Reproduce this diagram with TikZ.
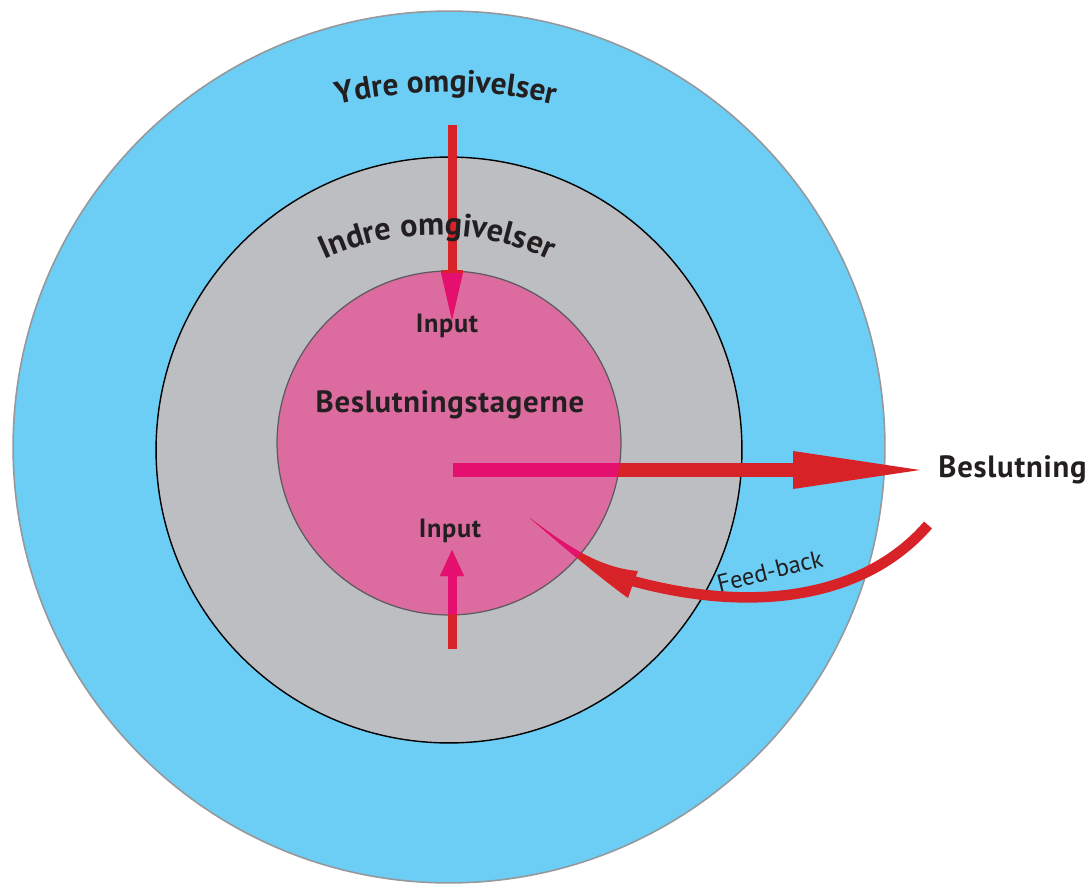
\documentclass[tikz,border=0pt]{standalone}
\usepackage{fontspec}
\setmainfont{PT Sans}
\usetikzlibrary{decorations.text}
\definecolor{outerblue}{RGB}{108,205,245}
\definecolor{outerline}{RGB}{150,152,156}
\definecolor{innergray}{RGB}{189,190,194}
\definecolor{corepink}{RGB}{220,108,160}
\definecolor{corerim}{RGB}{90,90,95}
\definecolor{arrowred}{RGB}{215,35,40}
\definecolor{arrowmag}{RGB}{228,15,110}
\definecolor{labeltext}{RGB}{35,31,32}
\newcommand\fbarrows[1]{%
  % top input arrow
  \fill[#1] (447.5,125) rectangle (456.5,272);
  \fill[#1] (441,272) -- (463,272) -- (452,320) -- cycle;
  % bottom input arrow
  \fill[#1] (447.5,649) rectangle (456.5,574);
  \fill[#1] (440,576) -- (464,576) -- (452,550) -- cycle;
  % decision arrow
  \fill[#1] (453,463) rectangle (796,477);
  \fill[#1] (793,451) -- (920,470) -- (793,489) -- cycle;
  % feed-back arrow
  \draw[#1, line width=6pt] (fbstart) .. controls (865,598) and (752,616) .. (fbend);
  \fill[#1] (fbtip) .. controls (565,545) and (600,568) .. (638,571)
     -- (633,584) -- (628,598) .. controls (600,578) and (555,540) .. (fbtip) -- cycle;
}
\begin{document}
\begin{tikzpicture}[x=0.02cm,y=-0.02cm,
  lbl/.style={font=\bfseries\fontsize{17.5}{21}\selectfont\addfontfeature{LetterSpace=2.5}, text=labeltext, inner sep=0},
  inlbl/.style={font=\bfseries\fontsize{15}{18}\selectfont\addfontfeature{LetterSpace=2.5}, text=labeltext, inner sep=0}]
\useasboundingbox (0,0) rectangle (1091,885);
\fill[white] (0,0) rectangle (1091,885);
\node[circle, fill=outerblue, draw=outerline, line width=0.9pt, minimum size=17.44cm, inner sep=0] (outer) at (449,447) {};
\node[circle, fill=innergray, draw=black, line width=0.8pt, minimum size=11.72cm, inner sep=0] (inner) at (449,450) {};
\node[circle, fill=corepink, draw=corerim, line width=0.7pt, minimum size=6.88cm, inner sep=0] (core) at (449,443) {};
\coordinate (fbstart) at (928,525);
\coordinate (fbend) at (622,578);
\coordinate (fbtip) at (530,518);
\fbarrows{arrowred}
\begin{scope}
  \clip (449,443) circle[radius=171.5];
  \fbarrows{arrowmag}
\end{scope}
\draw[arrowred, line width=1.2pt] (441,271.5) -- (463,271.5);
% curved labels
\path[decorate, decoration={text along path, text align=center, text color=labeltext,
  text={|\bfseries\fontsize{17.9}{21}\selectfont|Ydre omgivelser}}]
  (446,572) ++(240:480) arc[start angle=240, end angle=300, radius=480];
\path[decorate, decoration={text along path, text align=center, text color=labeltext,
  text={|\bfseries\fontsize{18.4}{22}\selectfont|Indre omgivelser}}]
  (437,505) ++(225:270) arc[start angle=225, end angle=315, radius=270];
\node[lbl] (dm) at (450,405) {Beslutningstagerne};
\node[lbl, anchor=west] (dec) at (938,470) {Beslutning};
\node[inlbl] (in1) at (447,326) {Input};
\node[inlbl] (in2) at (450,531) {Input};
\node[font=\fontsize{14}{16}\selectfont, text=labeltext, rotate=14, inner sep=0] (fb) at (770,571) {Feed-back};
\end{tikzpicture}
\end{document}
